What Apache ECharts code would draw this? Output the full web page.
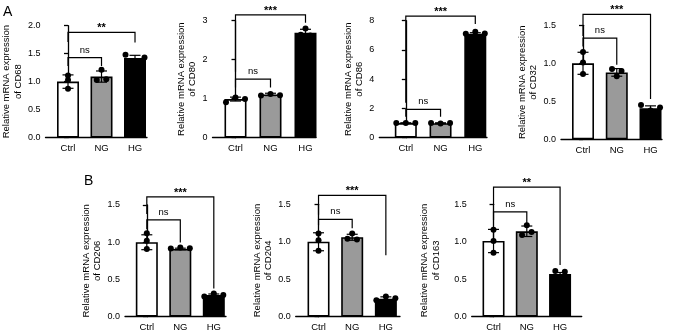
<!DOCTYPE html>
<html><head><meta charset="utf-8">
<script src="https://cdn.jsdelivr.net/npm/echarts@6/dist/echarts.min.js"></script>
<style>html,body{margin:0;padding:0;background:#fff}#c{width:677px;height:336px}</style>
</head><body><div id="c"></div>
<script>
// ---------- DATA ----------
const categories = ['Ctrl', 'NG', 'HG'];
const markers = ['CD68', 'CD80', 'CD86', 'CD32', 'CD206', 'CD204', 'CD163'];
const yMaxes = [2, 3, 8, 1.5, 1.5, 1.5, 1.5];
const yIntervals = [0.5, 1, 2, 0.5, 0.5, 0.5, 0.5];

const cd68Mean = [1.00, 1.09, 1.42];
const cd68Sd = [0.12, 0.10, 0.05];
const cd68Points = [[1.11, 1.03, 0.87], [1.21, 1.03, 1.04], [1.48, 1.36, 1.43]];
const cd68Sig = [['ns', 0, 1, 1.43, 1.28, 1.28], ['**', 0, 2, 1.88, 1.71, 1.70]];

const cd80Mean = [0.99, 1.11, 2.69];
const cd80Sd = [0.05, 0.03, 0.09];
const cd80Points = [[0.91, 1.03, 0.99], [1.08, 1.12, 1.09], [2.64, 2.80, 2.62]];
const cd80Sig = [['ns', 0, 1, 1.50, 1.29, 1.29], ['***', 0, 2, 3.15, 1.69, 2.95]];

const cd86Mean = [1.00, 0.99, 7.10];
const cd86Sd = [0.02, 0.03, 0.08];
const cd86Points = [[1.00, 1.00, 1.00], [1.00, 0.97, 1.00], [7.10, 7.24, 7.13]];
const cd86Sig = [['ns', 0, 1, 1.94, 1.43, 1.43], ['***', 0, 2, 8.31, 2.39, 7.77]];

const cd32Mean = [1.00, 0.88, 0.41];
const cd32Sd = [0.145, 0.05, 0.03];
const cd32Points = [[1.15, 1.01, 0.86], [0.925, 0.83, 0.90], [0.45, 0.38, 0.42]];
const cd32Sig = [['ns', 0, 1, 1.33, 1.22, 0.98], ['***', 0, 2, 1.645, 1.36, 0.53]];

const cd206Mean = [1.00, 0.91, 0.29];
const cd206Sd = [0.10, 0.01, 0.015];
const cd206Points = [[1.12, 1.02, 0.91], [0.915, 0.93, 0.92], [0.27, 0.31, 0.29]];
const cd206Sig = [['ns', 0, 1, 1.30, 1.175, 0.995], ['***', 0, 2, 1.61, 1.38, 0.38]];

const cd204Mean = [1.00, 1.06, 0.24];
const cd204Sd = [0.12, 0.04, 0.025];
const cd204Points = [[1.11, 1.02, 0.88], [1.04, 1.11, 1.03], [0.22, 0.27, 0.245]];
const cd204Sig = [['ns', 0, 1, 1.30, 1.22, 1.18], ['***', 0, 2, 1.62, 1.36, 0.82]];

const cd163Mean = [1.01, 1.14, 0.57];
const cd163Sd = [0.155, 0.07, 0.02];
const cd163Points = [[1.16, 1.01, 0.855], [1.09, 1.22, 1.13], [0.61, 0.51, 0.60]];
const cd163Sig = [['ns', 0, 1, 1.40, 1.29, 1.25], ['**', 0, 2, 1.73, 1.49, 0.69]];

const allMeans = [cd68Mean, cd80Mean, cd86Mean, cd32Mean, cd206Mean, cd204Mean, cd163Mean];
const allSds = [cd68Sd, cd80Sd, cd86Sd, cd32Sd, cd206Sd, cd204Sd, cd163Sd];
const allPoints = [cd68Points, cd80Points, cd86Points, cd32Points, cd206Points, cd204Points, cd163Points];
const allSigs = [cd68Sig, cd80Sig, cd86Sig, cd32Sig, cd206Sig, cd204Sig, cd163Sig];

// ---------- LAYOUT ----------
const layout = [
  {left: 45.5, top: 25.7, width: 101.5, height: 111.8, xMin: -0.672, xMax: 2.358, gap: 21},
  {left: 212.5, top: 20.7, width: 103.5, height: 117, xMin: -0.657, xMax: 2.30, gap: 13},
  {left: 379.3, top: 20.7, width: 107.7, height: 117, xMin: -0.763, xMax: 2.337, gap: 12},
  {left: 561, top: 25.3, width: 101, height: 114, xMin: -0.652, xMax: 2.34, gap: 21},
  {left: 125, top: 205, width: 101, height: 111.7, xMin: -0.651, xMax: 2.364, gap: 21},
  {left: 295.7, top: 204.3, width: 104.3, height: 112.4, xMin: -0.678, xMax: 2.42, gap: 21},
  {left: 471.7, top: 204.3, width: 110, height: 112.4, xMin: -0.656, xMax: 2.65, gap: 30}
];
const fills = ['#ffffff', '#9a9a9a', '#000000'];
const FONT = "'Liberation Sans', Arial, Helvetica, sans-serif";
const AXW = 1.3;
const CLUSTER = 4.0, SPACING = 9.5;

const grids = [], xAxes = [], yAxes = [], series = [];
layout.forEach((L, i) => {
  grids.push({left: L.left, top: L.top, width: L.width, height: L.height, containLabel: false});
  xAxes.push({
    type: 'value', gridIndex: i, min: L.xMin, max: L.xMax,
    splitLine: {show: false},
    axisLine: {show: true, onZero: false, lineStyle: {color: '#000', width: AXW}},
    axisTick: {show: false},
    axisLabel: {
      customValues: [0, 1, 2], margin: 6, fontSize: 9.5, color: '#000', fontFamily: FONT,
      formatter: v => categories[Math.round(v)] || ''
    }
  });
  const dec = yIntervals[i] < 1 ? 1 : 0;
  yAxes.push({
    type: 'value', gridIndex: i, min: 0, max: yMaxes[i], interval: yIntervals[i],
    splitLine: {show: false},
    axisLine: {show: true, lineStyle: {color: '#000', width: AXW}},
    axisTick: {show: true, length: 4, lineStyle: {color: '#000', width: AXW}},
    axisLabel: {margin: 5, fontSize: 9, color: '#000', fontFamily: FONT, formatter: v => v.toFixed(dec)},
    name: 'Relative mRNA expression\nof ' + markers[i],
    nameLocation: 'middle', nameRotate: 90, nameGap: L.gap,
    nameTextStyle: {fontSize: 9.5, lineHeight: 11.5, color: '#000', fontFamily: FONT}
  });

  const means = allMeans[i], sds = allSds[i], pts = allPoints[i], sigs = allSigs[i];

  series.push({
    type: 'bar', xAxisIndex: i, yAxisIndex: i, barWidth: 22, z: 2, silent: true,
    data: means.map((m, k) => ({value: [k, m], itemStyle: {color: fills[k]}})),
    itemStyle: {borderColor: '#000', borderWidth: 1.6}
  });

  series.push({
    type: 'custom', xAxisIndex: i, yAxisIndex: i, z: 3, silent: true, clip: false,
    encode: {x: 0, y: 1},
    data: means.map((m, k) => [k, m, sds[k]]),
    renderItem: (params, api) => {
      const k = api.value(0), m = api.value(1), s = api.value(2);
      const t = api.coord([k, m + s]), b = api.coord([k, m - s]);
      const hw = 5.5, st = {stroke: '#000', lineWidth: 1.2};
      return {type: 'group', children: [
        {type: 'line', shape: {x1: t[0], y1: t[1], x2: b[0], y2: b[1]}, style: st},
        {type: 'line', shape: {x1: t[0] - hw, y1: t[1], x2: t[0] + hw, y2: t[1]}, style: st},
        {type: 'line', shape: {x1: b[0] - hw, y1: b[1], x2: b[0] + hw, y2: b[1]}, style: st}
      ]};
    }
  });

  const flat = [];
  pts.forEach((g, k) => g.forEach((v, j) => flat.push([k, v, j])));
  series.push({
    type: 'custom', xAxisIndex: i, yAxisIndex: i, z: 4, silent: true, clip: false,
    encode: {x: 0, y: 1},
    data: flat,
    renderItem: (params, api) => {
      const k = api.value(0), v = api.value(1), j = api.value(2);
      const group = pts[k];
      const ys = group.map(val => api.coord([k, val])[1]);
      const order = ys.map((y, n) => n).sort((a, b) => ys[a] - ys[b]);
      const cl = new Array(group.length);
      let cid = 0; cl[order[0]] = 0;
      for (let t = 1; t < order.length; t++) {
        if (ys[order[t]] - ys[order[t - 1]] >= CLUSTER) cid++;
        cl[order[t]] = cid;
      }
      const members = group.map((_, n) => n).filter(n => cl[n] === cl[j]);
      const off = (members.indexOf(j) - (members.length - 1) / 2) * SPACING;
      const c = api.coord([k, v]);
      return {type: 'circle', shape: {cx: c[0] + off, cy: c[1], r: 3}, style: {fill: '#000'}};
    }
  });

  series.push({
    type: 'custom', xAxisIndex: i, yAxisIndex: i, z: 5, silent: true, clip: false,
    encode: {x: 0, y: 1},
    data: sigs.map((s, n) => [s[1], s[3], n]),
    renderItem: (params, api) => {
      const s = sigs[api.value(2)];
      const a = api.coord([s[1], s[3]]), b = api.coord([s[2], s[3]]);
      const la = api.coord([s[1], s[4]]), lb = api.coord([s[2], s[5]]);
      const isNs = s[0] === 'ns';
      return {type: 'group', children: [
        {type: 'polyline', shape: {points: [[la[0], la[1]], [a[0], a[1]], [b[0], b[1]], [lb[0], lb[1]]]},
         style: {stroke: '#000', lineWidth: 1.2, fill: null}},
        {type: 'text', style: {
          text: s[0], x: (a[0] + b[0]) / 2, y: isNs ? a[1] - 2.5 : a[1] + 1.5,
          align: 'center', verticalAlign: 'bottom',
          fontSize: isNs ? 9.5 : 11, fontWeight: isNs ? 'normal' : 'bold',
          fontFamily: FONT, fill: '#000'
        }}
      ]};
    }
  });
});

const chart = echarts.init(document.getElementById('c'), null, {renderer: 'canvas'});
chart.setOption({
  animation: false,
  backgroundColor: '#ffffff',
  textStyle: {fontFamily: FONT},
  grid: grids, xAxis: xAxes, yAxis: yAxes, series: series,
  graphic: [
    {type: 'text', left: 3, top: 5, style: {text: 'A', fontSize: 14, fontFamily: FONT, fill: '#000'}},
    {type: 'text', left: 84, top: 174, style: {text: 'B', fontSize: 14, fontFamily: FONT, fill: '#000'}}
  ]
});
</script></body></html>
